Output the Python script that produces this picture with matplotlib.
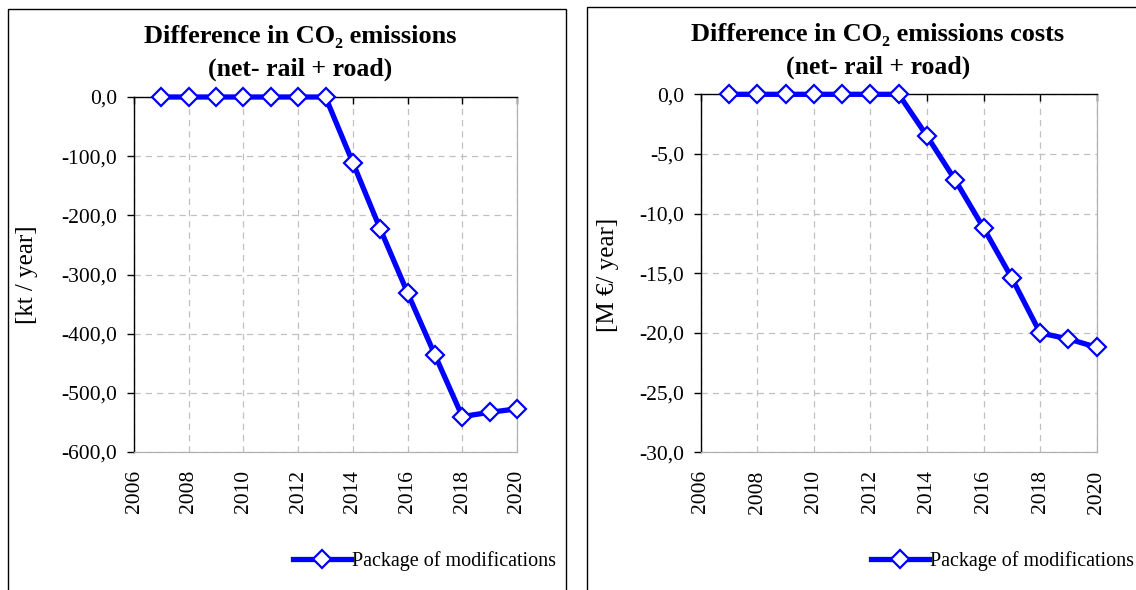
import matplotlib
matplotlib.use("Agg")
import matplotlib.pyplot as plt
from matplotlib.ticker import FuncFormatter, MultipleLocator
from matplotlib.patches import Rectangle

plt.rcParams['font.family'] = ['Liberation Serif', 'DejaVu Serif']

years = [2007, 2008, 2009, 2010, 2011, 2012, 2013, 2014, 2015, 2016, 2017, 2018, 2019, 2020]
co2_kt = [0, 0, 0, 0, 0, 0, 0, -111, -223, -331, -436, -540, -533, -527]
co2_cost = [0, 0, 0, 0, 0, 0, 0, -3.5, -7.2, -11.2, -15.4, -20.0, -20.5, -21.2]
series_name = "Package of modifications"
title_line1 = ["Difference in CO\u2082 emissions", "Difference in CO\u2082 emissions costs"]
title_line2 = ["(net- rail + road)", "(net- rail + road)"]
ylabels = ["[kt / year]", "[M \u20ac/ year]"]

W, H = 1136, 590
fig = plt.figure(figsize=(W / 100, H / 100), dpi=100)

def fx(px):
    return px / W

def fy(py):
    return 1 - py / H

# panel frames
fig.patches.append(Rectangle((fx(7.5), fy(600)), fx(565.5) - fx(7.5), fy(8.5) - fy(600),
                             transform=fig.transFigure, fill=False, ec='black', lw=1.0))
fig.patches.append(Rectangle((fx(586.5), fy(600)), fx(1150) - fx(586.5), fy(6.5) - fy(600),
                             transform=fig.transFigure, fill=False, ec='black', lw=1.0))

fmt = FuncFormatter(lambda v, p: f"{v:.1f}".replace('.', ','))

specs = [
    dict(pos=(134, 517, 97, 452), data=co2_kt, ylim=(-600, 0), step=100,
         tx=300, tb=(43, 76), ylx=27, yly=275, leg=(556, 561)),
    dict(pos=(700.7, 1096.7, 94.3, 452.3), data=co2_cost, ylim=(-30, 0), step=5,
         tx=878, tb=(41, 74), ylx=608, yly=275, leg=(1134, 561)),
]

for i, s in enumerate(specs):
    x0, x1, t, b = s['pos']
    ax = fig.add_axes([fx(x0), fy(b), fx(x1) - fx(x0), fy(t) - fy(b)])
    ax.plot(years, s['data'], color='#0000FF', lw=3.8, marker='D', ms=9,
            mfc='white', mec='#0000FF', mew=1.6, label=series_name, clip_on=False, zorder=5)
    ax.set_xlim(2006, 2020)
    ax.set_ylim(*s['ylim'])
    ax.xaxis.set_major_locator(MultipleLocator(2))
    ax.yaxis.set_major_locator(MultipleLocator(s['step']))
    ax.yaxis.set_major_formatter(fmt)
    ax.grid(True, color='#c0c0c0', ls=(0, (5, 4)), lw=0.9)
    ax.set_axisbelow(True)
    for sp in ['bottom', 'right']:
        ax.spines[sp].set_color('#b0b0b0')
        ax.spines[sp].set_linewidth(0.9)
    for sp in ['top', 'left']:
        ax.spines[sp].set_color('black')
        ax.spines[sp].set_linewidth(1.0)
    ax.tick_params(axis='x', bottom=False, top=True, labelbottom=True, labeltop=False,
                   direction='in', length=5, width=1.0, labelsize=15.5, labelrotation=90, pad=13)
    ax.tick_params(axis='y', direction='out', length=5, width=1.0, labelsize=15.5, pad=7)
    fig.text(fx(s['tx']), fy(s['tb'][0]), title_line1[i], ha='center', va='baseline',
             fontsize=19, fontweight='bold')
    fig.text(fx(s['tx']), fy(s['tb'][1]), title_line2[i], ha='center', va='baseline',
             fontsize=18.5, fontweight='bold')
    fig.text(fx(s['ylx']), fy(s['yly']), ylabels[i], rotation=90, ha='center', va='center',
             fontsize=18)
    ax.legend(loc='center right', bbox_to_anchor=(fx(s['leg'][0]), fy(s['leg'][1])),
              bbox_transform=fig.transFigure, frameon=False, fontsize=14.5,
              handlelength=2.9, handletextpad=0.05, borderpad=0, borderaxespad=0)

fig.savefig("out.png", dpi=100)
